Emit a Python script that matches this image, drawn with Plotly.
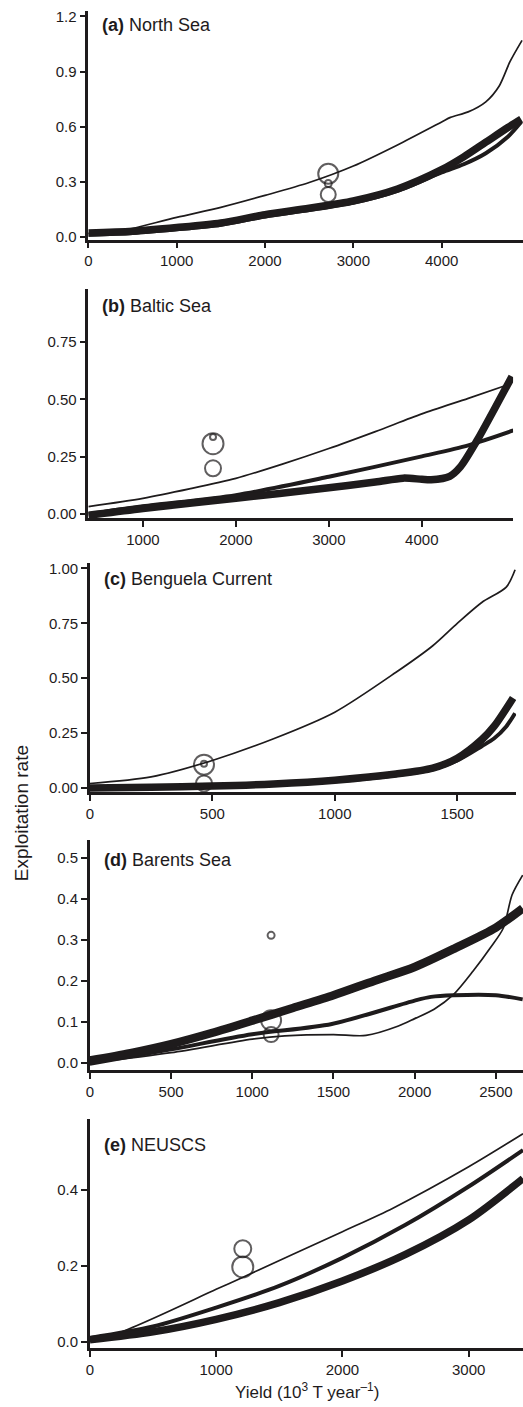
import plotly.graph_objects as go

# ---------------- data ----------------
# (a) North Sea
a_thin_x = [0, 300, 500, 1000, 1500, 2000, 2500, 3000, 3500, 4000, 4100, 4300, 4500, 4650, 4775, 4910]
a_thin_y = [0.02, 0.025, 0.045, 0.105, 0.16, 0.225, 0.295, 0.385, 0.5, 0.625, 0.65, 0.68, 0.735, 0.82, 0.955, 1.07]
a_x = [0, 500, 1000, 1500, 2000, 2500, 3000, 3500, 4000, 4250, 4500, 4750, 4900]
a_med_y = [0.01, 0.02, 0.04, 0.065, 0.11, 0.145, 0.185, 0.25, 0.35, 0.395, 0.455, 0.545, 0.625]
a_thick_y = [0.02, 0.03, 0.05, 0.075, 0.12, 0.155, 0.195, 0.26, 0.365, 0.435, 0.515, 0.595, 0.64]
a_pts_x = [2716, 2716, 2716]
a_pts_y = [0.343, 0.23, 0.29]
a_pts_size = [20, 15, 7]

# (b) Baltic Sea
b_thin_x = [413, 1000, 1500, 2000, 2500, 3000, 3500, 4000, 4500, 4895]
b_thin_y = [0.033, 0.069, 0.11, 0.156, 0.218, 0.286, 0.36, 0.437, 0.505, 0.56]
b_med_x = [413, 1000, 2000, 3000, 4000, 4500, 4985]
b_med_y = [0.0, 0.034, 0.083, 0.163, 0.252, 0.30, 0.365]
b_thick_x = [413, 1000, 2000, 3000, 3500, 3800, 4000, 4100, 4300, 4415, 4593, 4770, 4970]
b_thick_y = [-0.005, 0.025, 0.069, 0.115, 0.14, 0.157, 0.152, 0.150, 0.165, 0.206, 0.32, 0.45, 0.60]
b_pts_x = [1754, 1754, 1754]
b_pts_y = [0.307, 0.336, 0.20]
b_pts_size = [21, 6, 16]

# (c) Benguela Current
c_thin_x = [0, 250, 500, 750, 1000, 1250, 1400, 1500, 1600, 1700, 1736]
c_thin_y = [0.02, 0.05, 0.125, 0.224, 0.345, 0.527, 0.648, 0.75, 0.845, 0.915, 0.994]
c_med_x = [0, 250, 500, 750, 1000, 1250, 1400, 1500, 1600, 1650, 1700, 1736]
c_med_y = [-0.005, 0.0, 0.005, 0.015, 0.03, 0.058, 0.085, 0.125, 0.19, 0.225, 0.28, 0.34]
c_thick_x = [0, 250, 500, 750, 1000, 1250, 1400, 1500, 1600, 1650, 1728]
c_thick_y = [0.0, 0.003, 0.008, 0.018, 0.035, 0.063, 0.09, 0.135, 0.22, 0.28, 0.41]
c_pts_x = [466, 466, 466]
c_pts_y = [0.106, 0.11, 0.02]
c_pts_size = [20, 6, 16]

# (d) Barents Sea
d_thin_x = [0, 500, 1000, 1200, 1500, 1700, 1900, 2000, 2120, 2240, 2360, 2465, 2546, 2600, 2665]
d_thin_y = [0.0, 0.025, 0.058, 0.066, 0.069, 0.067, 0.09, 0.108, 0.131, 0.167, 0.224, 0.28, 0.329, 0.41, 0.458]
d_med_x = [0, 500, 1000, 1490, 2000, 2100, 2240, 2500, 2665]
d_med_y = [-0.002, 0.033, 0.07, 0.095, 0.152, 0.161, 0.165, 0.165, 0.155]
d_thick_x = [0, 250, 500, 750, 1000, 1250, 1500, 1750, 2000, 2250, 2500, 2665]
d_thick_y = [0.006, 0.024, 0.046, 0.073, 0.103, 0.134, 0.165, 0.2, 0.234, 0.28, 0.33, 0.377]
d_pts_x = [1116, 1116, 1116]
d_pts_y = [0.104, 0.069, 0.311]
d_pts_size = [20, 15, 7]

# (e) NEUSCS
e_thin_x = [0, 200, 1000, 1200, 2000, 2400, 3000, 3430]
e_thin_y = [0.01, 0.02, 0.138, 0.168, 0.29, 0.352, 0.461, 0.548]
e_x = [0, 500, 1000, 1500, 2000, 2500, 3000, 3430]
e_med_y = [0.01, 0.04, 0.09, 0.147, 0.221, 0.308, 0.409, 0.505]
e_thick_y = [0.005, 0.026, 0.059, 0.103, 0.16, 0.23, 0.321, 0.43]
e_pts_x = [1211, 1211]
e_pts_y = [0.245, 0.197]
e_pts_size = [17, 21]

panel_titles = ["(a)", "(b)", "(c)", "(d)", "(e)"]
panel_names = ["North Sea", "Baltic Sea", "Benguela Current", "Barents Sea", "NEUSCS"]

a_xticks = [0, 1000, 2000, 3000, 4000]
a_yticks = [0.0, 0.3, 0.6, 0.9, 1.2]
b_xticks = [1000, 2000, 3000, 4000]
b_yticks = [0.0, 0.25, 0.5, 0.75]
c_xticks = [0, 500, 1000, 1500]
c_yticks = [0.0, 0.25, 0.5, 0.75, 1.0]
d_xticks = [0, 500, 1000, 1500, 2000, 2500]
d_yticks = [0.0, 0.1, 0.2, 0.3, 0.4, 0.5]
e_xticks = [0, 1000, 2000, 3000]
e_yticks = [0.0, 0.2, 0.4]

# ---------------- layout geometry (pixels) ----------------
W, H = 523, 1407
INK = "#1e1b1c"
FONT = "Liberation Sans, Arial, Helvetica, sans-serif"

panels = [
    dict(left=85, right=523, top=8, bottom=238, xr=[0, 4921], yr=[-0.016, 1.23],
         xt=a_xticks, yt=a_yticks, yfmt=".1f",
         lines=[(a_thin_x, a_thin_y, 1.7), (a_x, a_med_y, 4), (a_x, a_thick_y, 7.5)],
         pts=(a_pts_x, a_pts_y, a_pts_size), label_y=22),
    dict(left=85, right=513, top=288, bottom=518, xr=[413, 4982], yr=[-0.017, 0.98],
         xt=b_xticks, yt=b_yticks, yfmt=".2f",
         lines=[(b_thin_x, b_thin_y, 1.7), (b_med_x, b_med_y, 4), (b_thick_x, b_thick_y, 7.5)],
         pts=(b_pts_x, b_pts_y, b_pts_size), label_y=305),
    dict(left=86.5, right=516, top=563, bottom=794, xr=[0, 1740], yr=[-0.021, 1.026],
         xt=c_xticks, yt=c_yticks, yfmt=".2f",
         lines=[(c_thin_x, c_thin_y, 1.7), (c_med_x, c_med_y, 4), (c_thick_x, c_thick_y, 7.5)],
         pts=(c_pts_x, c_pts_y, c_pts_size), label_y=579),
    dict(left=86.5, right=523, top=842, bottom=1073, xr=[0, 2667], yr=[-0.017, 0.543],
         xt=d_xticks, yt=d_yticks, yfmt=".1f",
         lines=[(d_thin_x, d_thin_y, 1.7), (d_med_x, d_med_y, 4), (d_thick_x, d_thick_y, 8.5)],
         pts=(d_pts_x, d_pts_y, d_pts_size), label_y=862),
    dict(left=86.5, right=523, top=1122, bottom=1353, xr=[0, 3430], yr=[-0.0175, 0.588],
         xt=e_xticks, yt=e_yticks, yfmt=".1f",
         lines=[(e_thin_x, e_thin_y, 1.7), (e_x, e_med_y, 4), (e_x, e_thick_y, 7.5)],
         pts=(e_pts_x, e_pts_y, e_pts_size), label_y=1149),
]

fig = go.Figure()
annotations = []
for i, p in enumerate(panels):
    n = i + 1
    xa = "x" if n == 1 else f"x{n}"
    ya = "y" if n == 1 else f"y{n}"
    for (xs, ys, w) in p["lines"]:
        fig.add_trace(go.Scatter(x=xs, y=ys, mode="lines", xaxis=xa, yaxis=ya,
                                 line=dict(color=INK, width=w, shape="spline", smoothing=0.8),
                                 hoverinfo="skip"))
    px_, py_, ps_ = p["pts"]
    fig.add_trace(go.Scatter(x=px_, y=py_, mode="markers", xaxis=xa, yaxis=ya,
                             marker=dict(size=ps_, color="rgba(255,255,255,0)", symbol="circle",
                                         line=dict(color=INK, width=2)),
                             hoverinfo="skip"))
    axis_common = dict(showline=True, linecolor=INK, linewidth=2.5, ticks="outside",
                       ticklen=6, tickwidth=2, tickcolor=INK, showgrid=False, zeroline=False,
                       tickfont=dict(family=FONT, size=15, color=INK), fixedrange=True)
    xkey = "xaxis" if n == 1 else f"xaxis{n}"
    ykey = "yaxis" if n == 1 else f"yaxis{n}"
    fig.update_layout(**{
        xkey: dict(domain=[p["left"] / W, p["right"] / W], range=p["xr"], anchor=ya,
                   tickmode="array", tickvals=p["xt"], ticktext=[str(v) for v in p["xt"]],
                   **axis_common),
        ykey: dict(domain=[1 - p["bottom"] / H, 1 - p["top"] / H], range=p["yr"], anchor=xa,
                   tickmode="array", tickvals=p["yt"],
                   ticktext=[format(v, p["yfmt"]) for v in p["yt"]], **axis_common),
    })
    annotations.append(dict(x=(p["left"] + 12) / W, y=1 - p["label_y"] / H, xref="paper", yref="paper",
                            xanchor="left", yanchor="middle", showarrow=False,
                            text=f"<b>{panel_titles[i]}</b> {panel_names[i]}",
                            font=dict(family=FONT, size=18, color=INK)))

annotations.append(dict(x=18 / W, y=1 - 815 / H, xref="paper", yref="paper", showarrow=False,
                        textangle=-90, xanchor="center", yanchor="middle",
                        text="Exploitation rate", font=dict(family=FONT, size=19, color=INK)))
annotations.append(dict(x=305 / W, y=1 - 1396 / H, xref="paper", yref="paper", showarrow=False,
                        xanchor="center", yanchor="middle",
                        text="Yield (10<sup>3</sup> T year<sup>–1</sup>)",
                        font=dict(family=FONT, size=17, color=INK)))

fig.update_layout(width=W, height=H, margin=dict(l=0, r=0, t=0, b=0),
                  paper_bgcolor="white", plot_bgcolor="white", showlegend=False,
                  annotations=annotations)

fig.write_html("out.html", config={"displayModeBar": False},
               post_script="document.body.style.margin='0';document.body.style.padding='0';"
                           "document.documentElement.style.overflow='hidden';")
